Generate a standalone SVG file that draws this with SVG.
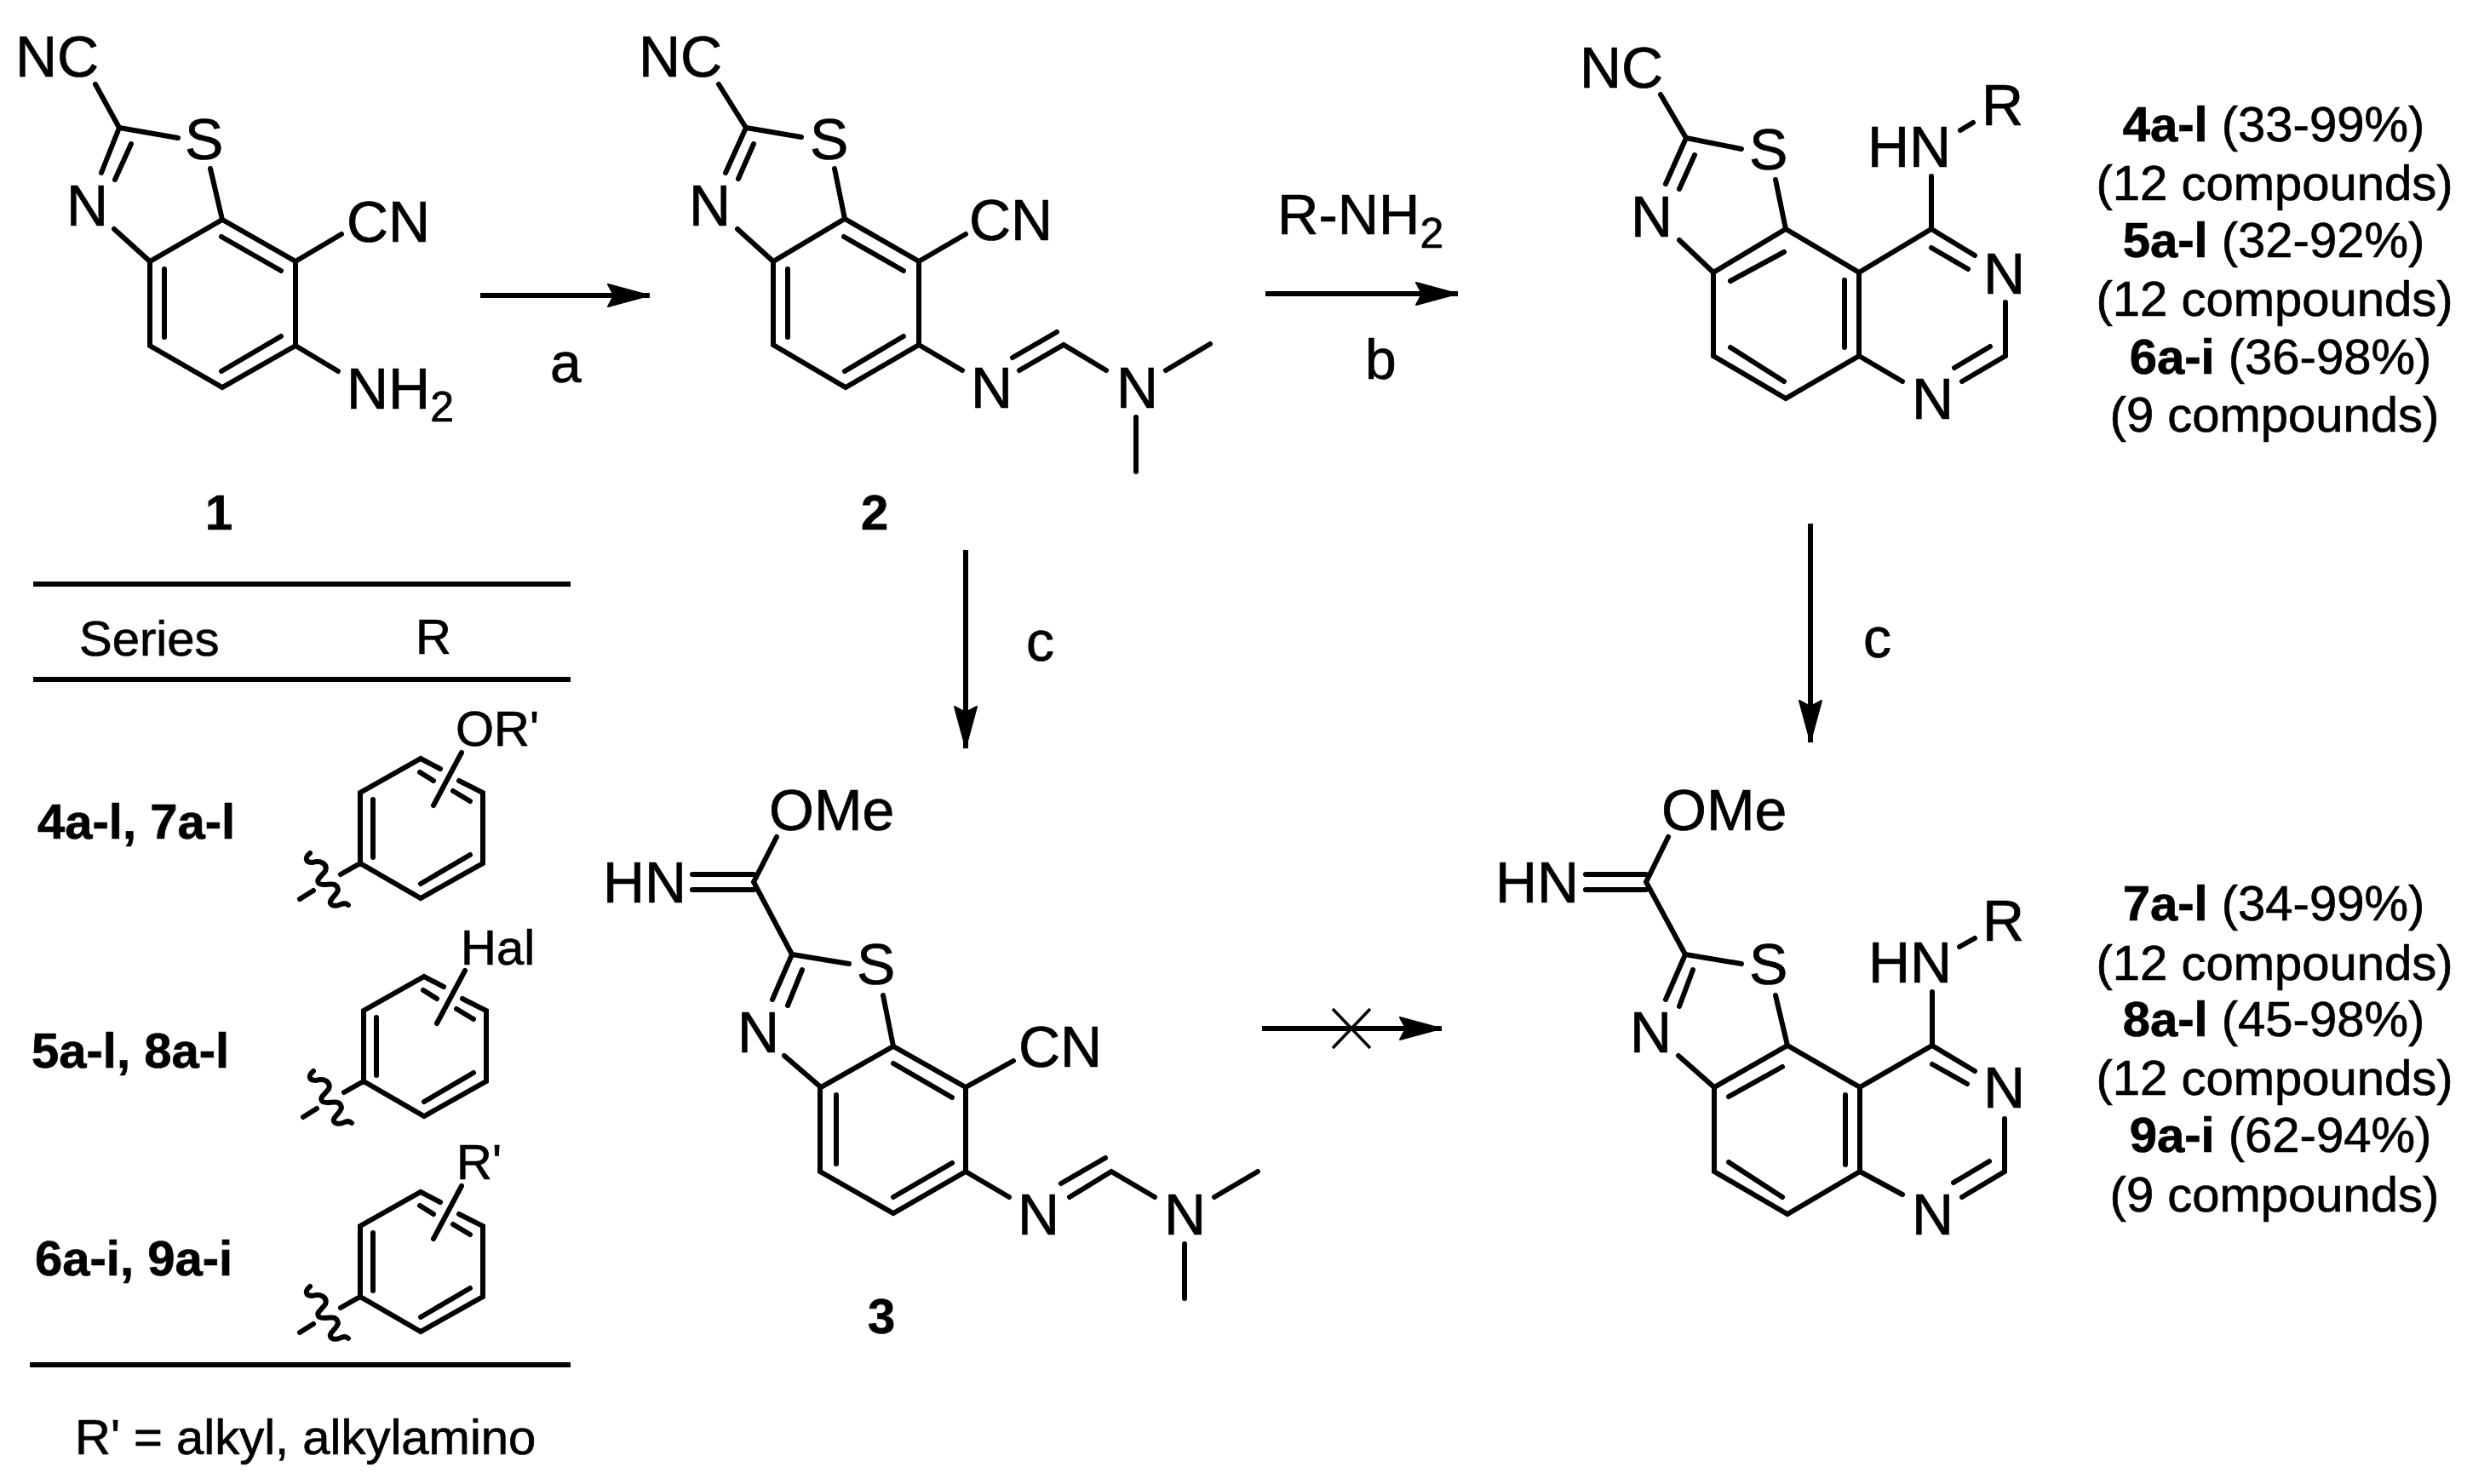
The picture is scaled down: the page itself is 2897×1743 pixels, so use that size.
<svg xmlns="http://www.w3.org/2000/svg" xmlns:xlink="http://www.w3.org/1999/xlink" width="2897" height="1743" viewBox="0 0 2897 1743">
<style>
text{font-family:"Liberation Sans",Arial,sans-serif;fill:#000;stroke:#000;stroke-width:.7}
.a{font-size:68px}
.s{font-size:50px}
.l{font-size:66px}
.t{font-size:58px}
.n{font-size:58px;font-weight:bold}
.y{font-size:58px;text-anchor:middle}
.y tspan.k{font-weight:bold}
.b{fill:none;stroke:#000;stroke-width:6;stroke-linecap:round;stroke-linejoin:miter}
.r{fill:none;stroke:#000;stroke-width:6}
.x{fill:none;stroke:#000;stroke-width:3.5}
</style>
<defs>
<marker id="head" markerUnits="userSpaceOnUse" markerWidth="52" markerHeight="34" refX="50" refY="17" orient="auto"><path d="M1,4 L49,17 L1,30 L8,17 Z" fill="#000" stroke="#000" stroke-width="2" stroke-linejoin="round"/></marker>
<g id="phenyl">
<path class="b" d="M517,903 L494,891 L423,931 V1014 L494,1055 L567,1014 V931 L539,917 M493,907 L509,917 M532,929 L552,941 M438,939 V1007 M494,1038 L552,1004 M423,1014 L400,1027 M352,1056 L368,1046"/>
<path class="b" d="M364,1002 C358,1007 358,1013 367,1013 C377,1010 385,1015 382,1023 C377,1030 370,1033 375,1038 C382,1042 395,1033 397,1045 C395,1053 383,1058 390,1063 C397,1067 403,1057 409,1063"/>
</g>
</defs>
<rect width="2897" height="1743" fill="#fff"/>

<g id="connectors">
<path class="r" marker-end="url(#head)" d="M564,347 H763"/>
<path class="r" marker-end="url(#head)" d="M1486,345 H1712"/>
<path class="r" marker-end="url(#head)" d="M1134,646 V879"/>
<path class="r" marker-end="url(#head)" d="M2126,615 V872"/>
<path class="r" marker-end="url(#head)" d="M1482,1208 H1693"/>
<path class="x" d="M1565,1185 L1609,1231 M1609,1185 L1565,1231"/>
<text class="l" x="646" y="449">a</text>
<text x="1500" y="275" style="font-size:67px">R-NH<tspan class="s" dy="16">2</tspan></text>
<text class="l" x="1603" y="445">b</text>
<text class="l" x="1205" y="776">c</text>
<text class="l" x="2188" y="772">c</text>
</g>

<g id="compound-1">
<path class="b" d="M112,99 L140,150 L209,162 M140,150 L119,203 M154,169 L135,211 M134,269 L176,307 L261,258 L347,307 V406 L261,455 L176,406 V307 M247,198 L261,258 M260,278 L330,318 M330,395 L260,436 M193,316 V396 M347,307 L401,275 M347,406 L397,436"/>
<text class="a" x="18" y="90">NC</text>
<text class="a" x="217" y="187">S</text>
<text class="a" x="78" y="265">N</text>
<text class="a" x="407" y="284">CN</text>
<text class="a" x="407" y="480">NH<tspan class="s" dy="15">2</tspan></text>
<text class="n" x="241" y="622">1</text>
</g>

<g id="compound-2">
<path class="b" d="M844,99 L876,150 L941,161 M876,150 L852,203 M885,169 L867,210 M866,269 L908,307 L992,257 L1079,307 V405 L993,455 L908,405 V307 M980,198 L992,257 M991,278 L1061,318 M1061,395 L992,436 M925,316 V396 M1079,307 L1134,275 M1079,405 L1130,435 M1197,435 L1249,405 L1299,435 M1189,420 L1241,390 M1369,435 L1421,404 M1334,490 V554"/>
<text class="a" x="750" y="90">NC</text>
<text class="a" x="951" y="187">S</text>
<text class="a" x="809" y="265">N</text>
<text class="a" x="1138" y="282">CN</text>
<text class="a" x="1140" y="479">N</text>
<text class="a" x="1311" y="479">N</text>
<text class="n" x="1011" y="622">2</text>
</g>

<g id="compound-4-6">
<path class="b" d="M1950,111 L1980,162 L2045,175 M1980,162 L1956,216 M1990,182 L1972,222 M1972,282 L2012,320 L2097,269 L2183,320 V418 L2097,468 L2012,418 V320 M2085,211 L2097,269 M2032,330 L2095,296 M2166,329 V408 M2032,408 L2095,448 M2183,320 L2268,269 L2319,300 M2268,291 L2311,316 M2355,355 V418 L2304,448 M2337,407 L2295,432 M2183,418 L2234,448 M2268,207 V269 M2302,153 L2317,144"/>
<text class="a" x="1855" y="103">NC</text>
<text class="a" x="2054" y="199">S</text>
<text class="a" x="1915" y="278">N</text>
<text class="a" x="2193" y="196">HN</text>
<text class="a" x="2327" y="147">R</text>
<text class="a" x="2329" y="345">N</text>
<text class="a" x="2245" y="492">N</text>
</g>
<g id="yields-top">
<text class="y" x="2670" y="166"><tspan class="k">4a-l</tspan> (33-99%)</text>
<text class="y" x="2671" y="235">(12 compounds)</text>
<text class="y" x="2670" y="302"><tspan class="k">5a-l</tspan> (32-92%)</text>
<text class="y" x="2671" y="371">(12 compounds)</text>
<text class="y" x="2678" y="439"><tspan class="k">6a-i</tspan> (36-98%)</text>
<text class="y" x="2671" y="507">(9 compounds)</text>
</g>

<g id="compound-3">
<path class="b" d="M813,1027 H885 M813,1045 H885 M912,983 L885,1036 L930,1121 L997,1132 M930,1121 L907,1174 M942,1139 L925,1181 M921,1240 L964,1277 L1049,1229 L1134,1277 V1376 L1049,1425 L963,1376 V1277 M1037,1169 L1049,1229 M1049,1249 L1118,1289 M1118,1366 L1049,1406 M982,1286 V1367 M1134,1277 L1190,1246 M1134,1376 L1185,1406 M1256,1406 L1305,1376 L1356,1406 M1246,1390 L1298,1360 M1426,1406 L1477,1376 M1391,1461 V1525"/>
<text class="a" x="903" y="975">OMe</text>
<text class="a" x="708" y="1060">HN</text>
<text class="a" x="1006" y="1156">S</text>
<text class="a" x="866" y="1236">N</text>
<text class="a" x="1196" y="1253">CN</text>
<text class="a" x="1195" y="1450">N</text>
<text class="a" x="1367" y="1450">N</text>
<text class="n" x="1019" y="1566">3</text>
</g>

<g id="compound-7-9">
<path class="b" d="M1862,1027 H1933 M1862,1045 H1933 M1959,983 L1933,1036 L1979,1121 L2045,1132 M1979,1121 L1956,1174 M1988,1139 L1972,1182 M1971,1240 L2013,1277 L2099,1228 L2184,1277 V1376 L2099,1426 L2013,1376 V1277 M2085,1169 L2099,1228 M2030,1288 L2093,1253 M2167,1286 V1368 M2030,1365 L2093,1406 M2184,1277 L2269,1228 L2319,1258 M2269,1250 L2310,1273 M2354,1314 V1376 L2304,1406 M2336,1364 L2294,1389 M2184,1376 L2234,1403 M2269,1165 V1228 M2301,1112 L2319,1102"/>
<text class="a" x="1951" y="975">OMe</text>
<text class="a" x="1756" y="1060">HN</text>
<text class="a" x="2054" y="1156">S</text>
<text class="a" x="1914" y="1236">N</text>
<text class="a" x="2194" y="1154">HN</text>
<text class="a" x="2328" y="1105">R</text>
<text class="a" x="2329" y="1301">N</text>
<text class="a" x="2245" y="1450">N</text>
</g>
<g id="yields-bottom">
<text class="y" x="2670" y="1081"><tspan class="k">7a-l</tspan> (34-99%)</text>
<text class="y" x="2671" y="1151">(12 compounds)</text>
<text class="y" x="2670" y="1217"><tspan class="k">8a-l</tspan> (45-98%)</text>
<text class="y" x="2671" y="1286">(12 compounds)</text>
<text class="y" x="2678" y="1353"><tspan class="k">9a-i</tspan> (62-94%)</text>
<text class="y" x="2671" y="1423">(9 compounds)</text>
</g>

<g id="series-table">
<path class="r" d="M39,686 H670 M39,798 H670 M35,1603 H670"/>
<text class="t" x="93" y="770">Series</text>
<text class="t" x="488" y="768">R</text>
<text class="n" x="44" y="985">4a-l, 7a-l</text>
<text class="n" x="37" y="1254">5a-l, 8a-l</text>
<text class="n" x="41" y="1498">6a-i, 9a-i</text>
<text class="t" x="88" y="1708">R' = alkyl, alkylamino</text>
</g>
<g id="r-group-ether"><use xlink:href="#phenyl" href="#phenyl"/><path class="b" d="M542,884 L509,946"/><text class="t" x="535" y="876">OR'</text></g>
<g id="r-group-halide"><use xlink:href="#phenyl" href="#phenyl" transform="translate(4,256)"/><path class="b" d="M542,884 L509,946" transform="translate(4,256)"/><text class="t" x="541" y="1133">Hal</text></g>
<g id="r-group-alkyl"><use xlink:href="#phenyl" href="#phenyl" transform="translate(0,509)"/><path class="b" d="M542,884 L509,946" transform="translate(0,509)"/><text class="t" x="536" y="1385">R'</text></g>
</svg>
